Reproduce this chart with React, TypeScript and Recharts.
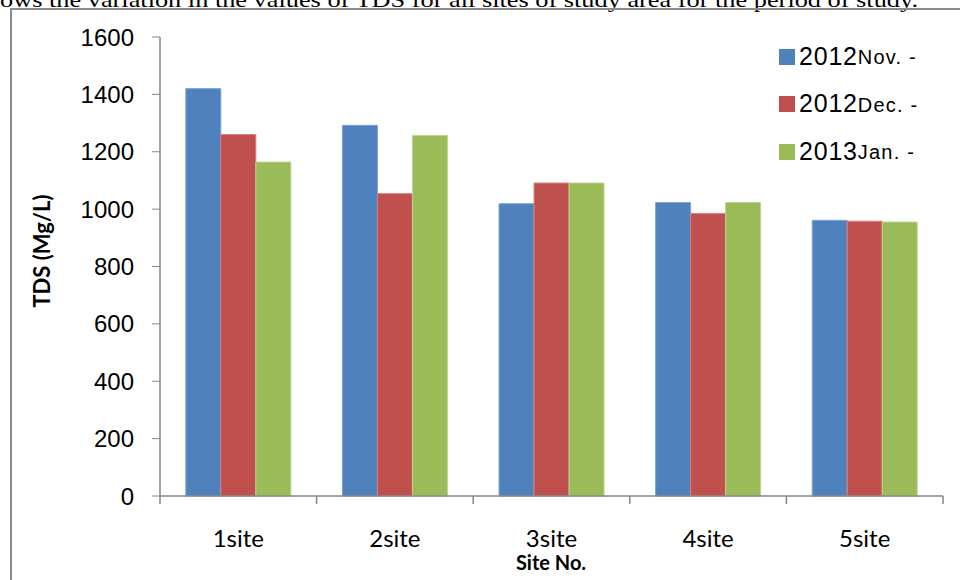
import React from 'react';
import { BarChart, Bar, XAxis, YAxis, Legend } from 'recharts';

const categories = ['1site', '2site', '3site', '4site', '5site'];
const novValues = [1420, 1292, 1019, 1023, 961];
const decValues = [1260, 1054, 1091, 985, 958];
const janValues = [1164, 1257, 1091, 1023, 955];
const yTicks = [0, 200, 400, 600, 800, 1000, 1200, 1400, 1600];
const seriesKeys = ['nov', 'dec', 'jan'];
const seriesYears = ['2012', '2012', '2013'];
const seriesMonths = ['Nov. -', 'Dec. -', 'Jan. -'];
const seriesColors = ['#4F81BD', '#C0504D', '#9BBB59'];
const seriesStrokes = ['#7FA2D0', '#D6817F', '#BDD48F'];
const caption = 'ows the variation in the values of TDS for all sites of study area for the period of study.';

const data = categories.map((c, i) => ({
  site: c,
  nov: novValues[i],
  dec: decValues[i],
  jan: janValues[i],
}));

const AXIS = '#868686';
const X_TICK_SIZE = 8;
const X_TICK_MARGIN = 26;

const CategoryTick = (props: any) => {
  const { x, y, payload, index, visibleTicksCount, width } = props;
  const count = visibleTicksCount || categories.length;
  const bw = width / count;
  const axisY = y - X_TICK_SIZE - X_TICK_MARGIN;
  const left = x - bw / 2;
  const right = x + bw / 2;
  return (
    <g>
      <line x1={left} x2={left} y1={axisY} y2={axisY + X_TICK_SIZE} stroke={AXIS} strokeWidth={1.5} />
      {index === count - 1 && (
        <line x1={right} x2={right} y1={axisY} y2={axisY + X_TICK_SIZE} stroke={AXIS} strokeWidth={1.5} />
      )}
      <text x={x} y={y} dy="0.71em" textAnchor="middle" fontFamily="Lato, sans-serif" fontSize={24} fill="#000">
        {payload.value}
      </text>
    </g>
  );
};

const LegendContent = (props: any) => {
  const payload = props.payload || [];
  return (
    <div style={{ fontFamily: 'Arial, "Liberation Sans", sans-serif', color: '#000' }}>
      {seriesKeys.map((k, idx) => {
        const p = payload.find((e: any) => e.dataKey === k);
        if (!p) return null;
        return (
          <div key={k} style={{ display: 'flex', alignItems: 'center', height: 47.5 }}>
            <div style={{ width: 16, height: 16, background: p.color, marginRight: 4, marginTop: 2 }} />
            <span style={{ fontSize: 25, lineHeight: '26px', letterSpacing: 0.8 }}>{seriesYears[idx]}</span>
            <span style={{ fontSize: 20, lineHeight: '26px', paddingTop: 3, letterSpacing: 1.2 }}>{seriesMonths[idx]}</span>
          </div>
        );
      })}
    </div>
  );
};

export default function App() {
  return (
    <div style={{ position: 'absolute', left: 0, top: 0, width: 960, height: 580, background: '#fff', overflow: 'hidden' }}>
      <svg width={960} height={20} style={{ position: 'absolute', left: 0, top: 0 }}>
        <text x={0} y={7} fontFamily='"Liberation Serif", "Times New Roman", serif' fontSize={21} fill="#000" textLength={918} lengthAdjust="spacingAndGlyphs">
          {caption}
        </text>
      </svg>
      <div style={{ position: 'absolute', left: 10, top: 8, width: 950, height: 572, borderTop: '2px solid #8c8c8c', borderLeft: '2px solid #8c8c8c' }} />
      <div style={{ position: 'absolute', left: 0, top: 0 }}>
        <BarChart
          width={960}
          height={580}
          data={data}
          margin={{ top: 37, right: 17, left: 0, bottom: 0 }}
          barCategoryGap="16.5%"
          barGap={0}
        >
          <XAxis
            dataKey="site"
            height={84}
            axisLine={{ stroke: AXIS, strokeWidth: 1.5 }}
            tickLine={false}
            tickSize={X_TICK_SIZE}
            tickMargin={X_TICK_MARGIN}
            tick={<CategoryTick />}
            interval={0}
            label={{
              content: () => (
                <text x={551} y={562} textAnchor="middle" dominantBaseline="central" fontFamily="Lato, sans-serif" fontWeight="bold" fontSize={20} fill="#000">
                  Site No.
                </text>
              ),
            }}
          />
          <YAxis
            width={160}
            domain={[0, 1600]}
            ticks={yTicks}
            interval={0}
            axisLine={{ stroke: AXIS, strokeWidth: 1.5 }}
            tickLine={{ stroke: AXIS, strokeWidth: 1 }}
            tickSize={8}
            tickMargin={18}
            tick={{ fontFamily: 'Arial, "Liberation Sans", sans-serif', fontSize: 24, fill: '#000' }}
            label={{
              content: () => (
                <text x={41} y={251} transform="rotate(-90 41 251)" textAnchor="middle" dominantBaseline="central" fontFamily="Lato, sans-serif" fontWeight="bold" fontSize={22} fill="#000">
                  TDS (Mg/L)
                </text>
              ),
            }}
          />
          <Legend
            layout="vertical"
            align="center"
            verticalAlign="middle"
            content={<LegendContent />}
            wrapperStyle={{ position: 'absolute', left: 779, top: 32, width: 180, height: 150 }}
          />
          {seriesKeys.map((k, i) => (
            <Bar
              key={k}
              dataKey={k}
              name={seriesYears[i] + seriesMonths[i]}
              fill={seriesColors[i]}
              stroke={seriesStrokes[i]}
              strokeWidth={1}
              isAnimationActive={false}
            />
          ))}
        </BarChart>
      </div>
    </div>
  );
}
